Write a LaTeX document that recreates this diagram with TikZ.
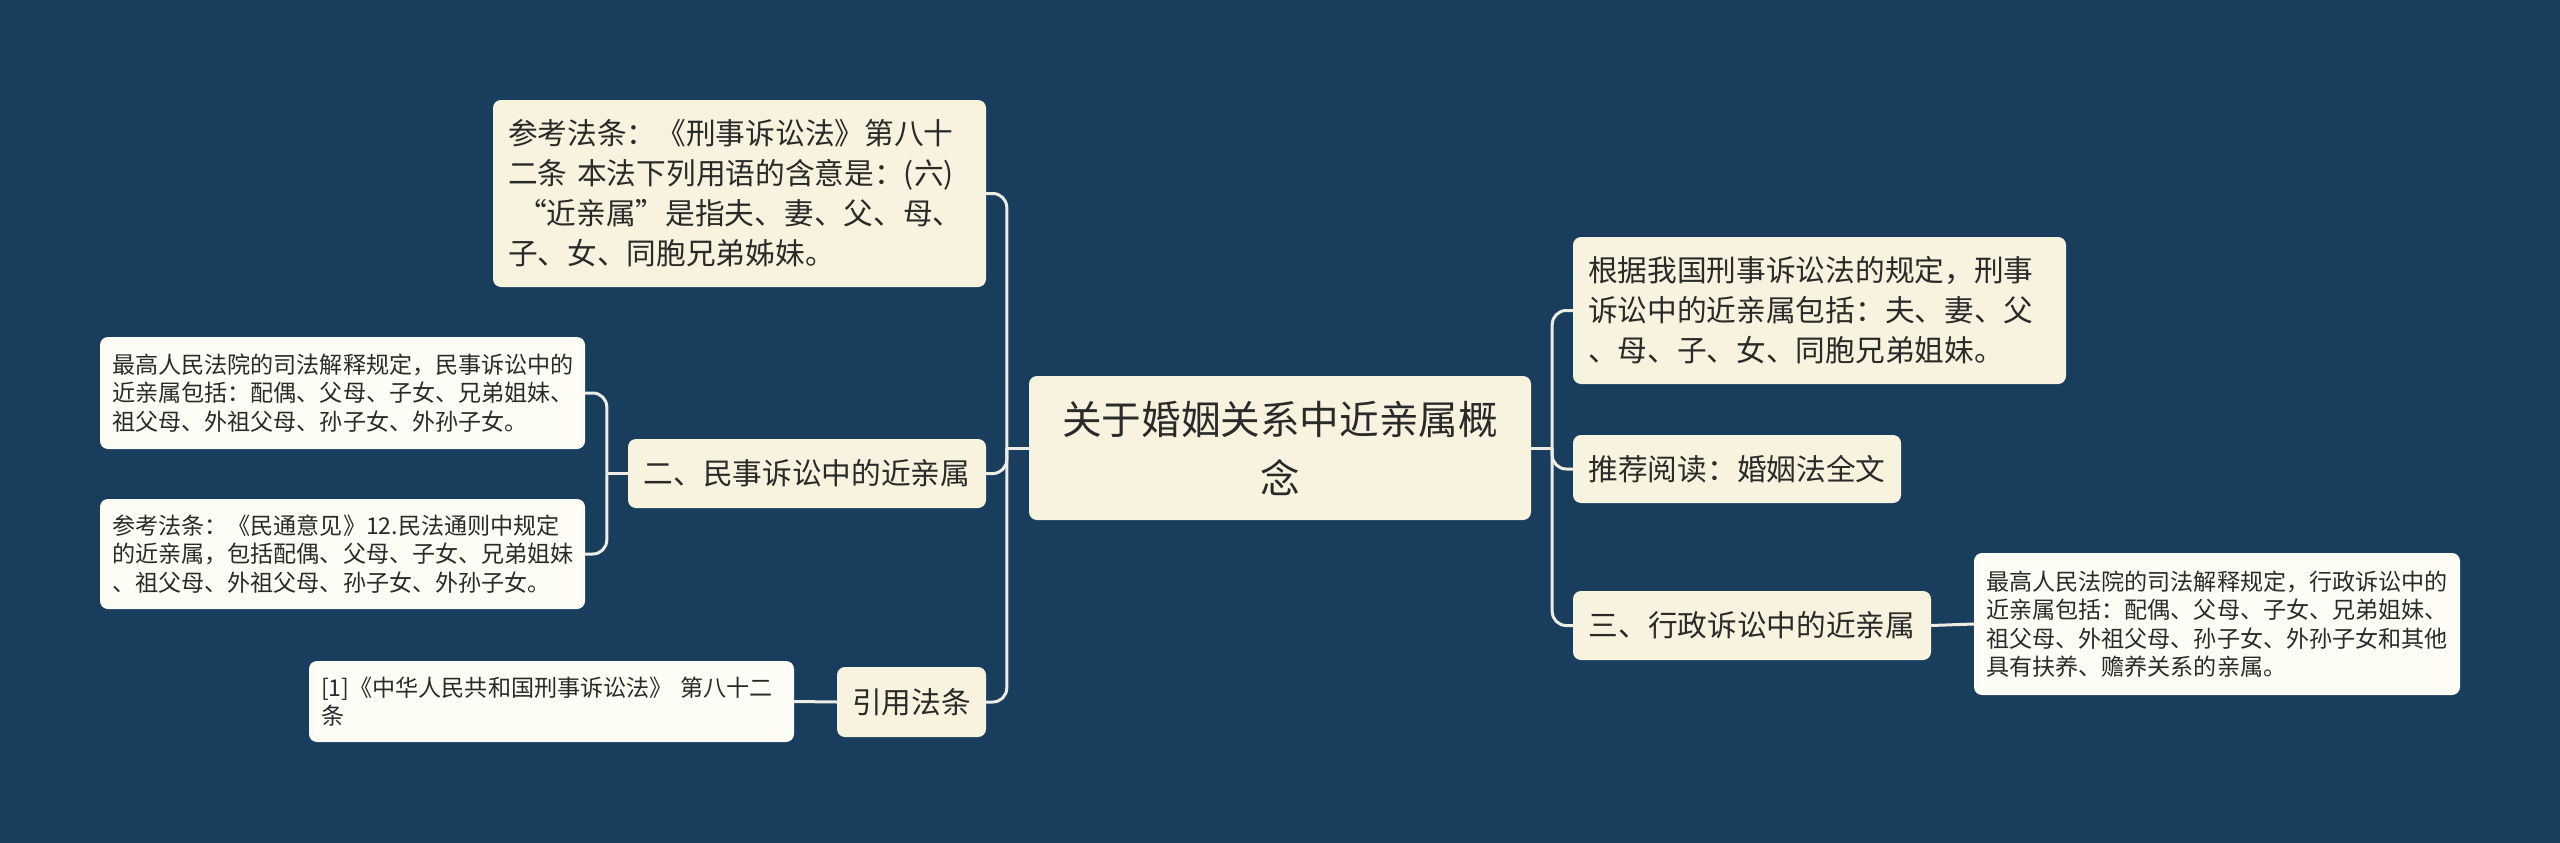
\documentclass[tikz,border=0pt]{standalone}
\usepackage{fontspec}
\setmainfont{Noto Sans CJK SC}
\definecolor{bg}{HTML}{183D5D}
\definecolor{mainfill}{HTML}{F8F3DE}
\definecolor{leaffill}{HTML}{FDFDF6}
\definecolor{ink}{HTML}{2A2A2A}
\definecolor{wire}{HTML}{EEECE3}
\tikzset{
  box/.style={draw=none, rounded corners=8pt, inner sep=0pt, text=ink},
  rootbox/.style={box, fill=mainfill, align=center, font=\fontsize{39.6pt}{59pt}\selectfont},
  midbox/.style={box, fill=mainfill, align=left, font=\fontsize{29.7pt}{40pt}\selectfont},
  leafbox/.style={box, fill=leaffill, align=left, font=\fontsize{23.1pt}{28.5pt}\selectfont},
  conn/.style={draw=wire, line width=3pt},
}
\begin{document}
\begin{tikzpicture}[x=1pt, y=-1pt]
\fill[bg] (0,0) rectangle (2560,843);
\useasboundingbox (0,0) rectangle (2560,843);

\node[rootbox, minimum width=502pt, minimum height=144pt] (C) at (1280,448) {关于婚姻关系中近亲属概\\念};

\node[midbox, minimum width=493pt, minimum height=187pt, text width=463pt] (TL) at (739.5,193.5) {参考法条：《刑事诉讼法》第八十\\二条~本法下列用语的含意是：(六)\\\hspace*{9pt}“近亲属”是指夫、妻、父、母、\\子、女、同胞兄弟姊妹。};
\node[midbox, minimum width=358pt, minimum height=69pt] (M2) at (807,473.5) {二、民事诉讼中的近亲属};
\node[midbox, minimum width=149pt, minimum height=70pt] (Y) at (911.5,702) {引用法条};

\node[leafbox, minimum width=485pt, minimum height=112pt, text width=461pt] (L1) at (342.5,393) {最高人民法院的司法解释规定，民事诉讼中的\\近亲属包括：配偶、父母、子女、兄弟姐妹、\\祖父母、外祖父母、孙子女、外孙子女。};
\node[leafbox, minimum width=485pt, minimum height=110pt, text width=461pt] (L2) at (342.5,554) {参考法条：《民通意见》12.民法通则中规定\\的近亲属，包括配偶、父母、子女、兄弟姐妹\\、祖父母、外祖父母、孙子女、外孙子女。};
\node[leafbox, minimum width=485pt, minimum height=81pt, text width=461pt] (L3) at (551.5,701.5) {[1]《中华人民共和国刑事诉讼法》~第八十二\\条};

\node[midbox, minimum width=493pt, minimum height=147pt, text width=463pt] (R1) at (1819.5,310.5) {根据我国刑事诉讼法的规定，刑事\\诉讼中的近亲属包括：夫、妻、父\\、母、子、女、同胞兄弟姐妹。};
\node[midbox, minimum width=328pt, minimum height=68pt] (R2) at (1737,469) {推荐阅读：婚姻法全文};
\node[midbox, minimum width=358pt, minimum height=69pt] (R3) at (1752,625.5) {三、行政诉讼中的近亲属};
\node[leafbox, minimum width=486pt, minimum height=142pt, text width=462pt] (L4) at (2217,624) {最高人民法院的司法解释规定，行政诉讼中的\\近亲属包括：配偶、父母、子女、兄弟姐妹、\\祖父母、外祖父母、孙子女、外孙子女和其他\\具有扶养、赡养关系的亲属。};

% left main bus
\draw[conn] (C.west) -- ++(-22,0) coordinate (LB);
\draw[conn, rounded corners=14pt] (LB) |- (TL.east);
\draw[conn, rounded corners=14pt] (LB) |- (M2.east);
\draw[conn, rounded corners=14pt] (LB) |- (Y.east);

% M2 bus
\draw[conn] (M2.west) -- ++(-21,0) coordinate (MB);
\draw[conn, rounded corners=14pt] (MB) |- (L1.east);
\draw[conn, rounded corners=14pt] (MB) |- (L2.east);

% Y to L3
\draw[conn] (Y.west) -- (L3.east);

% right main bus
\draw[conn] (C.east) -- ++(21,0) coordinate (RB);
\draw[conn, rounded corners=14pt] (RB) |- (R1.west);
\draw[conn, rounded corners=14pt] (RB) |- (R2.west);
\draw[conn, rounded corners=14pt] (RB) |- (R3.west);

% R3 to L4
\draw[conn] (R3.east) -- (L4.west);
\end{tikzpicture}
\end{document}
